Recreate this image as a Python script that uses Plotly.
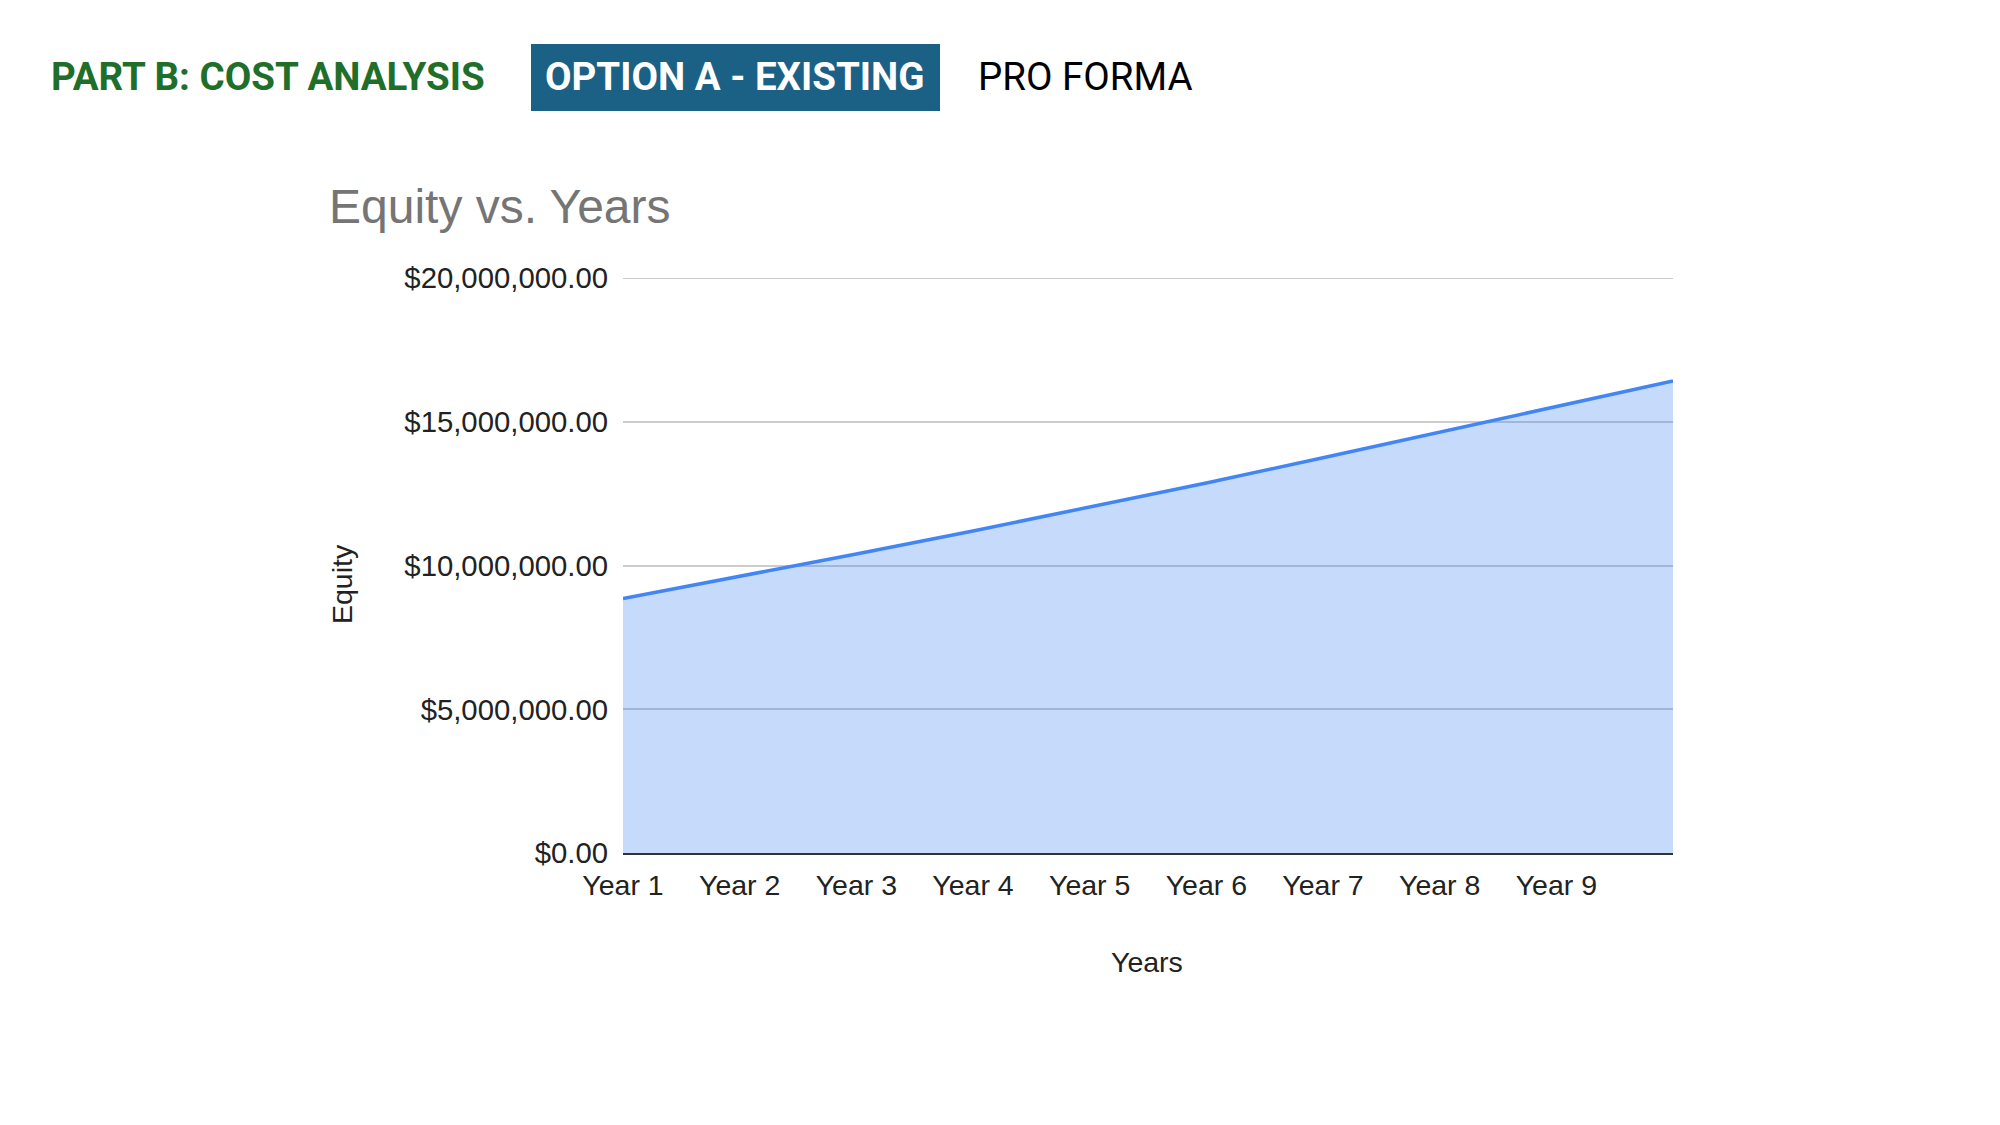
import plotly.graph_objects as go

# chart data
years = ["Year 1", "Year 2", "Year 3", "Year 4", "Year 5",
         "Year 6", "Year 7", "Year 8", "Year 9", "Year 10"]
equity = [8850000, 9620000, 10400000, 11200000, 12020000,
          12870000, 13750000, 14650000, 15550000, 16420000]
year_ticks = years[:9]
equity_ticks = [0, 5000000, 10000000, 15000000, 20000000]

W, H = 2000, 1125
L, R, T, B = 615, 1665, 270, 845  # plot area in pixels


def px(x):
    return (x - L) / (R - L)


def py(y):
    return (B - y) / (B - T)


fig = go.Figure()
fig.add_trace(go.Scatter(
    x=years, y=equity, mode="lines", fill="tozeroy",
    line=dict(color="#4285f4", width=3.5),
    fillcolor="rgba(66,133,244,0.30)",
    hoverinfo="x+y", showlegend=False))

fig.update_layout(
    width=W, height=H,
    margin=dict(l=L, r=W - R, t=T, b=H - B),
    paper_bgcolor="white", plot_bgcolor="white",
    font=dict(family="Liberation Sans, Arial", size=28, color="#222222"),
    title=dict(text="Equity vs. Years", xref="container", yref="container",
               x=321 / W, y=1 - 198 / H, xanchor="left", yanchor="middle",
               font=dict(family="Liberation Sans, Arial", size=48, color="#757575")),
)
fig.update_xaxes(
    type="category", range=[0, 9], tickvals=year_ticks, ticktext=year_ticks,
    showgrid=False, showline=True, linecolor="#333333", linewidth=2,
    ticks="", ticklabelstandoff=6, tickfont=dict(size=28.5, color="#222222"))
fig.update_yaxes(
    range=[0, equity_ticks[-1]], tickvals=equity_ticks, tickformat="$,.2f",
    showgrid=True, gridcolor="#cccccc", gridwidth=2, zeroline=False,
    ticks="", ticklabelstandoff=14, tickfont=dict(size=29.3, color="#222222"))

# plotly drops the gridline sitting on the top edge, so draw that one by hand
fig.add_shape(type="line", xref="paper", yref="y", x0=0, x1=1,
              y0=equity_ticks[-1], y1=equity_ticks[-1],
              line=dict(color="#cccccc", width=2), layer="below")

# axis titles
fig.add_annotation(text="Years", xref="paper", yref="paper", x=px(1139), y=py(972),
                   showarrow=False, font=dict(size=28.5, color="#222222"))
fig.add_annotation(text="Equity", xref="paper", yref="paper", x=px(316), y=py(576),
                   textangle=-90, showarrow=False, font=dict(size=28.5, color="#222222"))

# slide header
fig.add_shape(type="rect", xref="paper", yref="paper",
              x0=px(523), x1=px(932), y0=py(103), y1=py(36),
              fillcolor="#1b6185", line=dict(width=0), layer="below")
fig.add_annotation(text="<b>PART B: COST ANALYSIS</b>", xref="paper", yref="paper",
                   x=px(41), y=py(69), xanchor="left", yanchor="middle", showarrow=False,
                   font=dict(family="Roboto", size=38.5, color="#1f6e2a"))
fig.add_annotation(text="<b>OPTION A - EXISTING</b>", xref="paper", yref="paper",
                   x=px(727), y=py(69), xanchor="center", yanchor="middle", showarrow=False,
                   font=dict(family="Roboto", size=38.5, color="white"))
fig.add_annotation(text="PRO FORMA", xref="paper", yref="paper",
                   x=px(968), y=py(69), xanchor="left", yanchor="middle", showarrow=False,
                   font=dict(family="Roboto", size=38.5, color="black"))

fig.write_html("out.html")
